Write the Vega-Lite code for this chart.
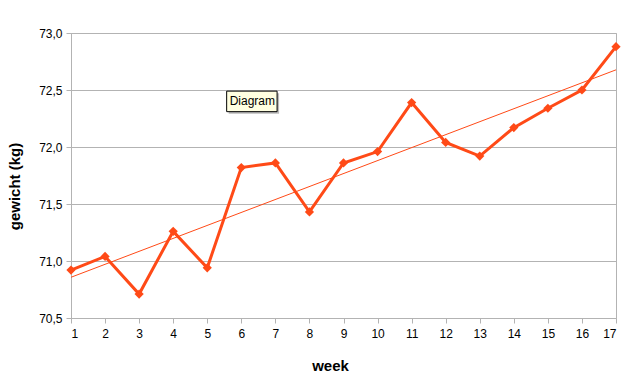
{
  "$schema": "https://vega.github.io/schema/vega-lite/v6.json",
  "width": 545,
  "height": 285,
  "autosize": "none",
  "padding": {"left": 71, "top": 33, "right": 8, "bottom": 56},
  "background": "white",
  "config": {
    "view": {"stroke": "#b3b3b3", "strokeWidth": 1},
    "axis": {
      "labelFont": "Liberation Sans",
      "labelFontSize": 12,
      "labelColor": "#000000",
      "titleFont": "Liberation Sans",
      "titleFontSize": 15,
      "titleFontWeight": "bold",
      "titleColor": "#000000",
      "domainColor": "#b3b3b3",
      "tickColor": "#b3b3b3",
      "gridColor": "#b3b3b3",
      "tickSize": 5,
      "labelOverlap": false
    }
  },
  "datasets": {
    "gewicht": [
      {"week": 1, "kg": 70.92},
      {"week": 2, "kg": 71.04},
      {"week": 3, "kg": 70.71},
      {"week": 4, "kg": 71.26},
      {"week": 5, "kg": 70.94},
      {"week": 6, "kg": 71.82},
      {"week": 7, "kg": 71.86},
      {"week": 8, "kg": 71.43},
      {"week": 9, "kg": 71.86},
      {"week": 10, "kg": 71.96},
      {"week": 11, "kg": 72.39},
      {"week": 12, "kg": 72.04},
      {"week": 13, "kg": 71.92},
      {"week": 14, "kg": 72.17},
      {"week": 15, "kg": 72.34},
      {"week": 16, "kg": 72.5},
      {"week": 17, "kg": 72.88}
    ],
    "notitie": [
      {"label": "Diagram", "week": 5.57, "week2": 7.05, "kg": 72.49, "kg2": 72.31}
    ]
  },
  "encoding": {
    "x": {
      "field": "week",
      "type": "quantitative",
      "scale": {"domain": [1, 17], "nice": false, "zero": false},
      "axis": {
        "title": "week",
        "values": [1,2,3,4,5,6,7,8,9,10,11,12,13,14,15,16,17],
        "grid": false,
        "labelPadding": 5,
        "labelOverlap": false,
        "labelBound": false,
        "titleX": 259,
        "titleY": 52,
        "titleAlign": "center",
        "titleBaseline": "alphabetic"
      }
    },
    "y": {
      "field": "kg",
      "type": "quantitative",
      "scale": {"domain": [70.5, 73], "nice": false, "zero": false},
      "axis": {
        "title": "gewicht (kg)",
        "values": [70.5, 71, 71.5, 72, 72.5, 73],
        "grid": true,
        "labelPadding": 4,
        "labelOverlap": false,
        "labelExpr": "replace(format(datum.value, '.1f'), '.', ',')",
        "titleAngle": 270,
        "titleX": -57,
        "titleY": 153,
        "titleAlign": "center",
        "titleBaseline": "middle"
      }
    }
  },
  "layer": [
    {
      "data": {"name": "gewicht"},
      "mark": {"type": "line", "color": "#ff4a17", "strokeWidth": 3, "strokeJoin": "miter"}
    },
    {
      "data": {"name": "gewicht"},
      "transform": [{"regression": "kg", "on": "week", "extent": [1, 17]}],
      "mark": {"type": "line", "color": "#ff4a17", "strokeWidth": 1}
    },
    {
      "data": {"name": "gewicht"},
      "mark": {"type": "point", "shape": "diamond", "filled": true, "color": "#ff4a17", "opacity": 1, "size": 85}
    },
    {
      "data": {"name": "notitie"},
      "mark": {"type": "rect", "fill": "#8c8c8c", "opacity": 0.6, "xOffset": 2, "x2Offset": 2, "yOffset": 2, "y2Offset": 2},
      "encoding": {
        "x2": {"field": "week2"},
        "y2": {"field": "kg2"}
      }
    },
    {
      "data": {"name": "notitie"},
      "mark": {"type": "rect", "fill": "#ffffe1", "stroke": "#000000", "strokeWidth": 1},
      "encoding": {
        "x2": {"field": "week2"},
        "y2": {"field": "kg2"}
      }
    },
    {
      "data": {"name": "notitie"},
      "mark": {"type": "text", "align": "left", "baseline": "middle", "dx": 3, "dy": 10, "font": "Liberation Sans", "fontSize": 12, "color": "#000000"},
      "encoding": {
        "text": {"field": "label"}
      }
    }
  ]
}
